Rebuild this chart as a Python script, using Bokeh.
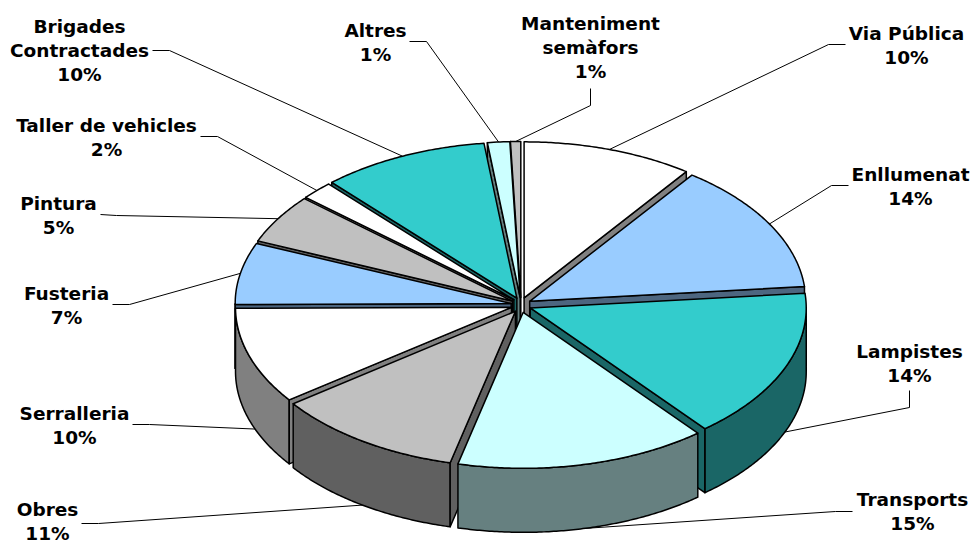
import numpy as np
from bokeh.core.properties import value
from bokeh.embed import file_html
from bokeh.models import ColumnDataSource, Range1d
from bokeh.plotting import figure
from bokeh.resources import INLINE

# ---- data -----------------------------------------------------------------
categories = ["Via Pública", "Enllumenat", "Lampistes", "Transports", "Obres", "Serralleria",
              "Fusteria", "Pintura", "Taller de vehicles", "Brigades Contractades", "Altres",
              "Manteniment semàfors"]
shares = [10.0, 13.5, 15.6, 14.7, 11.1, 10.0, 6.4, 5.1, 1.9, 9.8, 1.3, 0.6]
percent_labels = ["10%", "14%", "14%", "15%", "11%", "10%", "7%", "5%", "2%", "10%", "1%", "1%"]
label_lines = [["Via Pública"], ["Enllumenat"], ["Lampistes"], ["Transports"], ["Obres"], ["Serralleria"],
               ["Fusteria"], ["Pintura"], ["Taller de vehicles"], ["Brigades", "Contractades"], ["Altres"],
               ["Manteniment", "semàfors"]]
top_colors = ["#FFFFFF", "#99CCFF", "#33CCCC", "#CCFFFF", "#C0C0C0", "#FFFFFF",
              "#99CCFF", "#C0C0C0", "#FFFFFF", "#33CCCC", "#CCFFFF", "#C0C0C0"]
wall_colors = ["#808080", "#4D6680", "#1A6666", "#668080", "#606060", "#808080",
               "#4D6680", "#606060", "#808080", "#1A6666", "#668080", "#606060"]

# ---- layout ---------------------------------------------------------------
CX, CY, RX, RY = 520.5, 304.5, 276.0, 156.0
EX, EY = 10.0, 7.5
DEPTH = 64.0
LINE_H = 24.0
label_pos = [(906, 33), (910, 174), (909, 351), (912, 499), (47, 509), (74, 413),
             (66, 293), (58, 203), (106, 125), (79, 26), (375, 30), (590, 23)]
leader_knots = [[(845, 44), (828, 44)], [(848, 185), (831, 185)], [(909, 390), (909, 407)],
                [(852, 511), (835, 511)], [(81, 523), (98, 523)], [(132, 424), (149, 424)],
                [(112, 304), (129, 304)], [(100, 214), (116, 215)], [(200, 136), (217, 136)],
                [(152, 50), (169, 50)], [(409, 41), (426, 41)], [(590, 88), (590, 105)]]
leader_wall = [0, 0, 1.0, 1, 1, 1.15, 0, 0, 0, 0, 0, 0]
leader_dx = [0, 0, 0, 0, 0, 30, 0, 0, 0, 0, 0, 0]

bounds = np.concatenate([[0], np.cumsum(shares)]) / np.sum(shares) * 2 * np.pi
p = figure(width=971, height=541, x_range=Range1d(0, 971), y_range=Range1d(541, 0),
           output_backend="svg", toolbar_location=None, min_border=0,
           outline_line_color=None, background_fill_color="white")
p.axis.visible = False
p.grid.visible = False

faces = dict(xs=[], ys=[], c=[])
def add(xs, ys, c):
    faces["xs"].append(list(xs)); faces["ys"].append(list(ys)); faces["c"].append(c)

n = len(shares)
mids = (bounds[:-1] + bounds[1:]) / 2
apex = [(CX + EX * np.sin(m), CY - EY * np.cos(m)) for m in mids]

lead_x, lead_y = [], []
for i in range(n):
    ax, ay = apex[i]
    m = mids[i]
    ex, ey = ax + RX * np.sin(m) + leader_dx[i], ay - RY * np.cos(m) + leader_wall[i] * DEPTH
    k = leader_knots[i]
    lead_x.append([k[0][0], k[1][0], ex]); lead_y.append([k[0][1], k[1][1], ey])
p.multi_line(lead_x, lead_y, line_color="black", line_width=1)

for i in sorted(range(n), key=lambda j: -np.cos(mids[j])):
    ax, ay = apex[i]
    a0, a1 = bounds[i], bounds[i + 1]
    # outer wall: only the part of the rim that faces the viewer
    w0, w1 = max(a0, np.pi / 2), min(a1, 3 * np.pi / 2)
    if w1 > w0:
        w = np.linspace(w0, w1, max(3, int(np.degrees(w1 - w0)) * 2))
        wx, wy = ax + RX * np.sin(w), ay - RY * np.cos(w)
        add(np.r_[wx, wx[::-1]], np.r_[wy, wy[::-1] + DEPTH], wall_colors[i])
    # cut faces that face the viewer
    for ang, visible in ((a0, np.sin(a0) < -1e-9), (a1, np.sin(a1) > 1e-9)):
        if visible:
            r_x, r_y = ax + RX * np.sin(ang), ay - RY * np.cos(ang)
            add([ax, r_x, r_x, ax], [ay, r_y, r_y + DEPTH, ay + DEPTH], wall_colors[i])
    t = np.linspace(a0, a1, max(3, int(np.degrees(a1 - a0)) * 2))
    add(np.r_[ax, ax + RX * np.sin(t)], np.r_[ay, ay - RY * np.cos(t)], top_colors[i])
p.patches("xs", "ys", fill_color="c", line_color="black", line_width=1.5, line_join="round",
          source=ColumnDataSource(faces))

tx, ty, tt = [], [], []
for i in range(n):
    lines = label_lines[i] + [percent_labels[i]]
    for j, s in enumerate(lines):
        tx.append(label_pos[i][0]); ty.append(label_pos[i][1] + j * LINE_H); tt.append(s)
p.text(tx, ty, tt, text_font=value("DejaVu Sans"), text_font_style="bold", text_font_size="18.5px",
       text_align="center", text_baseline="middle", text_color="black")

open("out.html", "w").write(file_html(p, INLINE))
